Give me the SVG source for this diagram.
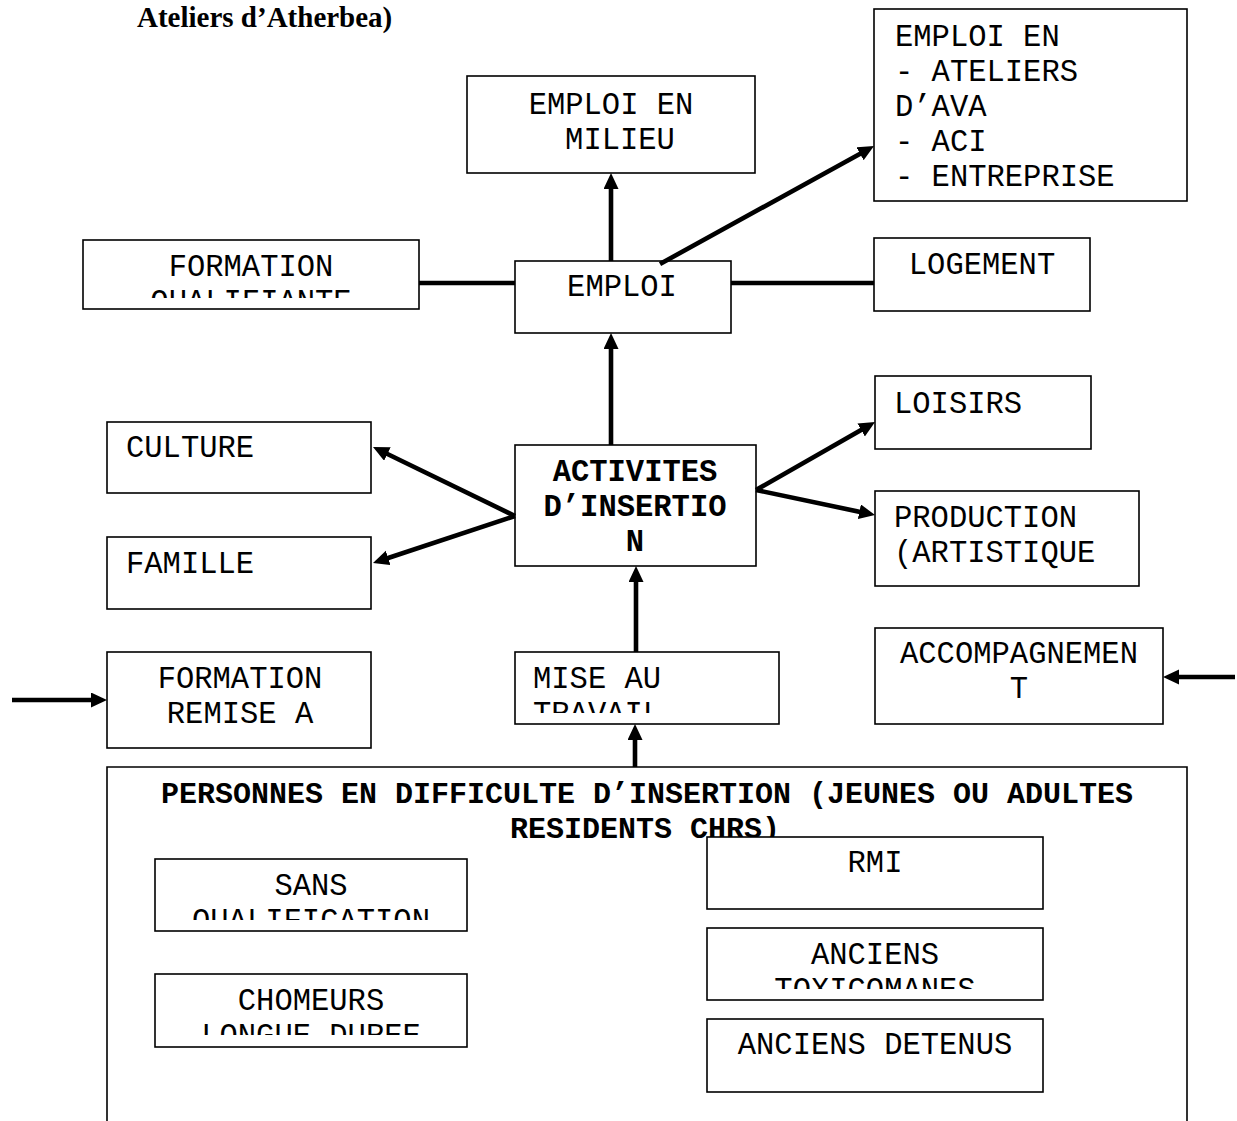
<svg xmlns="http://www.w3.org/2000/svg" width="1237" height="1121" viewBox="0 0 1237 1121">
<style>
.box{fill:#fff;stroke:#000;stroke-width:1.6}
.t{font-family:"Liberation Mono","DejaVu Sans Mono",monospace;font-size:30.5px;fill:#000}
.m{text-anchor:middle}
.b{font-weight:bold}
.c{stroke:#000;stroke-width:4.6;fill:none}
.title{font-family:"Liberation Serif","DejaVu Serif",serif;font-size:29px;font-weight:bold;fill:#000}
</style>
<defs>
<marker id="ah" markerUnits="userSpaceOnUse" markerWidth="16" markerHeight="16" refX="8" refY="7.5" orient="auto">
<path d="M0,0 L16,7.5 L0,15 z" fill="#000"/>
</marker>
<clipPath id="cq"><rect x="83" y="240" width="336" height="58"/></clipPath>
<clipPath id="cm"><rect x="515" y="652" width="264" height="61"/></clipPath>
<clipPath id="cs"><rect x="155" y="859" width="312" height="61"/></clipPath>
<clipPath id="cc"><rect x="155" y="974" width="312" height="61"/></clipPath>
<clipPath id="ct"><rect x="707" y="928" width="336" height="61"/></clipPath>
</defs>
<rect width="1237" height="1121" fill="#fff"/>
<text class="title" x="137" y="27">Ateliers d’Atherbea)</text>

<g id="n-milieu"><rect class="box" x="467" y="76" width="288" height="97"/>
<text class="t m" x="611" y="114">EMPLOI EN</text><text class="t m" x="620" y="149">MILIEU</text></g>

<g id="n-ateliers"><rect class="box" x="874" y="9" width="313" height="192"/>
<text class="t" x="895" y="46">EMPLOI EN</text>
<text class="t" x="895" y="81">- ATELIERS</text>
<text class="t" x="895" y="116">D’AVA</text>
<text class="t" x="895" y="151">- ACI</text>
<text class="t" x="895" y="186">- ENTREPRISE</text></g>

<g id="n-formq"><rect class="box" x="83" y="240" width="336" height="69"/>
<text class="t m" x="251" y="276">FORMATION</text>
<text class="t m" x="251" y="311" clip-path="url(#cq)">QUALIFIANTE</text></g>

<g id="n-emploi"><rect class="box" x="515" y="261" width="216" height="72"/>
<text class="t m" x="622" y="296">EMPLOI</text></g>

<g id="n-logement"><rect class="box" x="874" y="238" width="216" height="73"/>
<text class="t m" x="982" y="274">LOGEMENT</text></g>

<g id="n-loisirs"><rect class="box" x="875" y="376" width="216" height="73"/>
<text class="t" x="894" y="413">LOISIRS</text></g>

<g id="n-culture"><rect class="box" x="107" y="422" width="264" height="71"/>
<text class="t" x="126" y="457">CULTURE</text></g>

<g id="n-activites"><rect class="box" x="515" y="445" width="241" height="121"/>
<text class="t m b" x="635" y="481">ACTIVITES</text>
<text class="t m b" x="635" y="516">D’INSERTIO</text>
<text class="t m b" x="635" y="551">N</text></g>

<g id="n-famille"><rect class="box" x="107" y="537" width="264" height="72"/>
<text class="t" x="126" y="573">FAMILLE</text></g>

<g id="n-production"><rect class="box" x="875" y="491" width="264" height="95"/>
<text class="t" x="894" y="527">PRODUCTION</text>
<text class="t" x="894" y="562">(ARTISTIQUE</text></g>

<g id="n-formremise"><rect class="box" x="107" y="652" width="264" height="96"/>
<text class="t m" x="240" y="688">FORMATION</text>
<text class="t m" x="240" y="723">REMISE A</text></g>

<g id="n-mise"><rect class="box" x="515" y="652" width="264" height="72"/>
<text class="t" x="533" y="688">MISE AU</text>
<text class="t" x="533" y="723" clip-path="url(#cm)">TRAVAIL</text></g>

<g id="n-accomp"><rect class="box" x="875" y="628" width="288" height="96"/>
<text class="t m" x="1019" y="663">ACCOMPAGNEMEN</text>
<text class="t m" x="1019" y="698">T</text></g>

<g id="n-personnes"><path d="M107,1121 V767 H1187 V1121" fill="#fff" stroke="#000" stroke-width="1.6"/>
<text class="t m b" x="647" y="803" style="font-size:30px">PERSONNES EN DIFFICULTE D’INSERTION (JEUNES OU ADULTES</text>
<text class="t m b" x="645" y="838" style="font-size:30px">RESIDENTS CHRS)</text></g>

<g id="n-sans"><rect class="box" x="155" y="859" width="312" height="72"/>
<text class="t m" x="311" y="895">SANS</text>
<text class="t m" x="311" y="930" clip-path="url(#cs)">QUALIFICATION</text></g>

<g id="n-chomeurs"><rect class="box" x="155" y="974" width="312" height="73"/>
<text class="t m" x="311" y="1010">CHOMEURS</text>
<text class="t m" x="311" y="1045" clip-path="url(#cc)">LONGUE DUREE</text></g>

<g id="n-rmi"><rect class="box" x="707" y="837" width="336" height="72"/>
<text class="t m" x="875" y="872">RMI</text></g>

<g id="n-toxico"><rect class="box" x="707" y="928" width="336" height="72"/>
<text class="t m" x="875" y="964">ANCIENS</text>
<text class="t m" x="875" y="999" clip-path="url(#ct)">TOXICOMANES</text></g>

<g id="n-detenus"><rect class="box" x="707" y="1019" width="336" height="73"/>
<text class="t m" x="875" y="1054">ANCIENS DETENUS</text></g>

<g id="connectors">
<line class="c" x1="611" y1="261" x2="611" y2="181" marker-end="url(#ah)"/>
<line class="c" x1="660" y1="264" x2="867" y2="149.9" marker-end="url(#ah)"/>
<line class="c" x1="419" y1="283" x2="515" y2="283"/>
<line class="c" x1="731" y1="283" x2="874" y2="283"/>
<line class="c" x1="611" y1="445" x2="611" y2="341" marker-end="url(#ah)"/>
<line class="c" x1="515" y1="516" x2="380.2" y2="450.5" marker-end="url(#ah)"/>
<line class="c" x1="515" y1="516" x2="380.6" y2="560.5" marker-end="url(#ah)"/>
<line class="c" x1="756" y1="490" x2="868.1" y2="426" marker-end="url(#ah)"/>
<line class="c" x1="756" y1="490" x2="867.2" y2="513.4" marker-end="url(#ah)"/>
<line class="c" x1="636" y1="652" x2="636" y2="574" marker-end="url(#ah)"/>
<line class="c" x1="635" y1="767" x2="635" y2="732" marker-end="url(#ah)"/>
<line class="c" x1="12" y1="700" x2="99" y2="700" marker-end="url(#ah)"/>
<line class="c" x1="1235" y1="677" x2="1171" y2="677" marker-end="url(#ah)"/>
</g>
</svg>
